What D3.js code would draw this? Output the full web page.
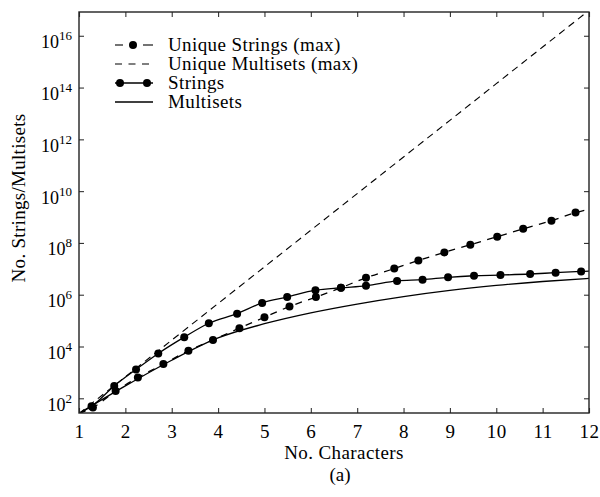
<!DOCTYPE html>
<html>
<head>
<meta charset="utf-8">
<script src="https://cdn.jsdelivr.net/npm/d3@7"></script>
<style>
  body { margin: 0; background: #fff; }
  text { font-family: "Liberation Serif", "DejaVu Serif", serif; fill: #000; }
</style>
</head>
<body>
<div class="chart"></div>
<script>
var svgWidth = 600;
var svgHeight = 497;

var margin = { top: 12, right: 11, bottom: 84, left: 79 };
var width = svgWidth - margin.left - margin.right;
var height = svgHeight - margin.top - margin.bottom;

// x ticks (No. Characters)
var xTicks = [1, 2, 3, 4, 5, 6, 7, 8, 9, 10, 11, 12];
// y ticks (powers of ten) and their exponent labels
var yTicks = [1e2, 1e4, 1e6, 1e8, 1e10, 1e12, 1e14, 1e16];
var yExp = ["2", "4", "6", "8", "10", "12", "14", "16"];

// Unique Multisets (max): 26^n
var maxX = [1, 2, 3, 4, 5, 6, 7, 8, 9, 10, 11, 12];
var maxY = [26, 676, 17576, 456976, 11881376, 308915776, 8031810176,
  208827064576, 5429503678976, 141167095653376, 3670344486987776, 95428956661682176];

// Strings (line through marker points, with line end points)
var stringsX = [1, 1.27, 1.76, 2.23, 2.71, 3.27, 3.80, 4.41, 4.95, 5.49, 6.10, 6.65,
  7.19, 7.86, 8.41, 8.96, 9.52, 10.09, 10.73, 11.28, 11.83, 12];
var stringsY = [26, 49, 300, 1300, 5400, 23000, 79000, 186000, 480000, 810000, 1.5e6, 1.86e6,
  2.2e6, 3.4e6, 3.8e6, 4.7e6, 5.4e6, 5.75e6, 6.3e6, 7.1e6, 7.9e6, 8.1e6];

// Unique Strings (max)
var uniqueX = [1, 1.30, 1.79, 2.27, 2.82, 3.36, 3.89, 4.46, 5.00, 5.54, 6.11, 6.65,
  7.19, 7.80, 8.32, 8.88, 9.44, 10.02, 10.58, 11.19, 11.71, 12];
var uniqueY = [26, 44, 190, 630, 2100, 6900, 18000, 51000, 135000, 350000, 810000, 1.86e6,
  4.5e6, 1.02e7, 2.1e7, 4.3e7, 8.5e7, 1.74e8, 3.5e8, 7.2e8, 1.48e9, 2.0e9];

// Multisets
var multiX = [1, 2, 3, 4, 5, 6, 7, 8, 9, 10, 11, 12];
var multiY = [26, 300, 2950, 21400, 76000, 200000, 437000, 851000, 1.48e6, 2.29e6, 3.24e6, 4.27e6];

var legendLabels = ["Unique Strings (max)", "Unique Multisets (max)", "Strings", "Multisets"];

var svg = d3.select(".chart")
  .append("svg")
  .attr("width", svgWidth)
  .attr("height", svgHeight);

var chartGroup = svg.append("g")
  .attr("transform", `translate(${margin.left}, ${margin.top})`);

var xScale = d3.scaleLinear()
  .domain([1, 12])
  .range([0, width]);

var yScale = d3.scaleLog()
  .domain([Math.pow(10, 1.432), Math.pow(10, 16.918)])
  .range([height, 0]);

chartGroup.append("clipPath")
  .attr("id", "plotclip")
  .append("rect")
  .attr("width", width)
  .attr("height", height);

function zip(xs, ys) {
  return xs.map(function(d, i) { return [d, ys[i]]; });
}

var line = d3.line()
  .x(d => xScale(d[0]))
  .y(d => yScale(d[1]))
  .curve(d3.curveMonotoneX);

var plot = chartGroup.append("g").attr("clip-path", "url(#plotclip)");

plot.append("path")
  .datum(zip(maxX, maxY))
  .attr("d", d3.line().x(d => xScale(d[0])).y(d => yScale(d[1])))
  .attr("fill", "none")
  .attr("stroke", "#000")
  .attr("stroke-width", 1.1)
  .attr("stroke-dasharray", "7,5");

plot.append("path")
  .datum(zip(multiX, multiY))
  .attr("d", line)
  .attr("fill", "none")
  .attr("stroke", "#000")
  .attr("stroke-width", 1.3);

plot.append("path")
  .datum(zip(uniqueX, uniqueY))
  .attr("d", line)
  .attr("fill", "none")
  .attr("stroke", "#000")
  .attr("stroke-width", 1.3)
  .attr("stroke-dasharray", "7,6.5");

plot.append("path")
  .datum(zip(stringsX, stringsY))
  .attr("d", line)
  .attr("fill", "none")
  .attr("stroke", "#000")
  .attr("stroke-width", 1.3);

// markers (skip line end points)
plot.selectAll(".dotU")
  .data(zip(uniqueX, uniqueY).slice(1, -1))
  .enter()
  .append("circle")
  .attr("cx", d => xScale(d[0]))
  .attr("cy", d => yScale(d[1]))
  .attr("r", 4)
  .attr("fill", "#000");

plot.selectAll(".dotS")
  .data(zip(stringsX, stringsY).slice(1, -1))
  .enter()
  .append("circle")
  .attr("cx", d => xScale(d[0]))
  .attr("cy", d => yScale(d[1]))
  .attr("r", 4)
  .attr("fill", "#000");

// axes, ticks inward on all sides
var bottomAxis = d3.axisBottom(xScale).tickValues(xTicks).tickSize(-5).tickPadding(11.5).tickSizeOuter(0);
var topAxis = d3.axisTop(xScale).tickValues(xTicks).tickSize(-5).tickFormat("").tickSizeOuter(0);
var leftAxis = d3.axisLeft(yScale).tickValues(yTicks).tickSize(-5).tickFormat("").tickSizeOuter(0);
var rightAxis = d3.axisRight(yScale).tickValues(yTicks).tickSize(-5).tickFormat("").tickSizeOuter(0);

var xAxisG = chartGroup.append("g")
  .attr("transform", `translate(0, ${height})`)
  .call(bottomAxis);
xAxisG.selectAll("text")
  .style("font-family", "Liberation Serif")
  .style("font-size", "19px")
  .style("letter-spacing", "0.5px")
  .attr("fill", "#000");

chartGroup.append("g").call(topAxis);
chartGroup.append("g").call(leftAxis);
chartGroup.append("g").attr("transform", `translate(${width}, 0)`).call(rightAxis);

chartGroup.selectAll(".domain").attr("stroke", "none");
chartGroup.selectAll(".tick line").attr("stroke", "#333").attr("stroke-width", 1.1);

chartGroup.append("rect")
  .attr("width", width)
  .attr("height", height)
  .attr("fill", "none")
  .attr("stroke", "#222")
  .attr("stroke-width", 1.4);

// y tick labels as 10^n
var yLabels = chartGroup.selectAll(".ylab")
  .data(yTicks)
  .enter()
  .append("text")
  .attr("x", -7)
  .attr("y", d => yScale(d) + 12.5)
  .attr("text-anchor", "end")
  .style("font-size", "18px");
yLabels.append("tspan").text("10");
yLabels.append("tspan")
  .attr("dy", -8)
  .style("font-size", "13px")
  .text((d, i) => yExp[i]);

// axis titles
svg.append("text")
  .attr("transform", `translate(25, 198) rotate(-90)`)
  .attr("text-anchor", "middle")
  .style("font-size", "19px")
  .style("letter-spacing", "0.3px")
  .text("No. Strings/Multisets");

svg.append("text")
  .attr("x", 344)
  .attr("y", 459)
  .attr("text-anchor", "middle")
  .style("font-size", "19px")
  .style("letter-spacing", "0.4px")
  .text("No. Characters");

svg.append("text")
  .attr("x", 340)
  .attr("y", 481)
  .attr("text-anchor", "middle")
  .style("font-size", "19px")
  .text("(a)");

// legend
var legend = svg.append("g").attr("transform", "translate(115, 45)");
var rowGap = 19;
legendLabels.forEach(function(label, i) {
  legend.append("text")
    .attr("x", 53)
    .attr("y", i * rowGap + 6)
    .style("font-size", "19px")
    .style("letter-spacing", "0.4px")
    .text(label);
});
// row 0: - o -
legend.append("line").attr("x1", 0).attr("x2", 8).attr("y1", 0).attr("y2", 0).attr("stroke", "#000").attr("stroke-width", 1.1);
legend.append("line").attr("x1", 28).attr("x2", 38).attr("y1", 0).attr("y2", 0).attr("stroke", "#000").attr("stroke-width", 1.1);
legend.append("circle").attr("cx", 18).attr("cy", 0).attr("r", 4).attr("fill", "#000");
// row 1: - - -
legend.append("line").attr("x1", 0).attr("x2", 38).attr("y1", rowGap).attr("y2", rowGap)
  .attr("stroke", "#000").attr("stroke-width", 1.1).attr("stroke-dasharray", "7,6.5");
// row 2: o-o
legend.append("line").attr("x1", 0).attr("x2", 38).attr("y1", 2 * rowGap).attr("y2", 2 * rowGap).attr("stroke", "#000").attr("stroke-width", 1.3);
legend.append("circle").attr("cx", 5).attr("cy", 2 * rowGap).attr("r", 4).attr("fill", "#000");
legend.append("circle").attr("cx", 32).attr("cy", 2 * rowGap).attr("r", 4).attr("fill", "#000");
// row 3: solid
legend.append("line").attr("x1", 0).attr("x2", 38).attr("y1", 3 * rowGap).attr("y2", 3 * rowGap).attr("stroke", "#000").attr("stroke-width", 1.3);
</script>
</body>
</html>
